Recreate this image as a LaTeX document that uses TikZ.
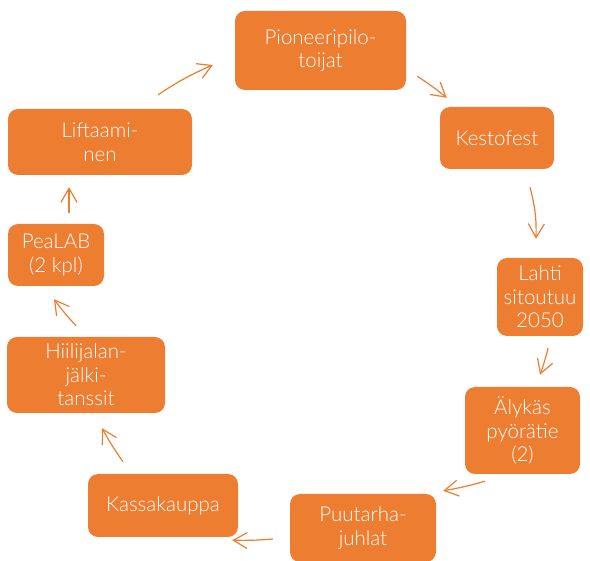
\documentclass[tikz,border=0pt]{standalone}
\usepackage{fontspec}
\setmainfont{Lato Light}
\usetikzlibrary{arrows.meta,calc}
\definecolor{oranssi}{HTML}{ED7D31}
\tikzset{
  laatikko/.style={fill=oranssi, rounded corners=10pt, text=white, align=center,
    inner sep=0pt, font=\fontsize{20.5}{23.5}\selectfont},
  nuoli/.style={draw=oranssi, line width=1.2pt, -{Straight Barb[angle=60:16pt]}}
}
\begin{document}
\begin{tikzpicture}[x=1pt,y=-1pt]
    \useasboundingbox (0,0) rectangle (590,561);
    % laatikot
    \node[laatikko,minimum width=171pt,minimum height=79pt] (pion) at (320.5,50.5) {Pioneeripilo-\\toijat};
    \node[laatikko,minimum width=114pt,minimum height=62pt] (kesto) at (497,138) {Kestofest};
    \node[laatikko,minimum width=86pt,minimum height=78pt] (lahti) at (540,297) {Lahti\\sitoutuu\\2050};
    \node[laatikko,minimum width=115pt,minimum height=87pt] (alykas) at (522.5,430.5) {Älykäs\\pyörätie\\(2)};
    \node[laatikko,minimum width=146pt,minimum height=68pt] (puutarha) at (363,528) {Puutarha-\\juhlat};
    \node[laatikko,minimum width=150pt,minimum height=63pt] (kassa) at (163,505.5) {Kassakauppa};
    \node[laatikko,minimum width=158pt,minimum height=76pt] (hiili) at (86,375) {Hiilijalan-\\jälki-\\tanssit};
    \node[laatikko,minimum width=96pt,minimum height=62pt] (pea) at (56,255) {PeaLAB\\(2 kpl)};
    \node[laatikko,minimum width=184pt,minimum height=66pt] (lift) at (100,142) {Liftaami-\\nen};
    % nuolet
    \draw[nuoli] ($(lift.north)+(58,-14)$) to[bend left=5] ($(pion.west)+(-22,14.5)$);
    \draw[nuoli] ($(pion.south east)+(11,-14)$) to[bend left=3] ($(kesto.north west)+(7,-9)$);
    \draw[nuoli] ($(kesto.south)+(33,18)$) to[bend left=8] ($(lahti.north)+(-4,-19)$);
    \draw[nuoli] ($(lahti.south)+(8,12)$) to[bend left=3] ($(alykas.north)+(17.5,-12)$);
    \draw[nuoli] ($(alykas.south)+(-37.5,7)$) to[bend left=3] ($(puutarha.north east)+(7,-3)$);
    \draw[nuoli] ($(puutarha.west)+(-17,11)$) to[bend left=3] ($(kassa.south east)+(-6,3)$);
    \draw[nuoli] ($(kassa.north)+(-40,-12)$) to[bend left=3] ($(hiili.south)+(16,15)$);
    \draw[nuoli] ($(hiili.north)+(-10,-11)$) to[bend left=3] ($(pea.south)+(-2,13)$);
    \draw[nuoli] ($(pea.north)+(13,-11)$) -- ($(lift.south)+(-31,12)$);
\end{tikzpicture}
\end{document}
